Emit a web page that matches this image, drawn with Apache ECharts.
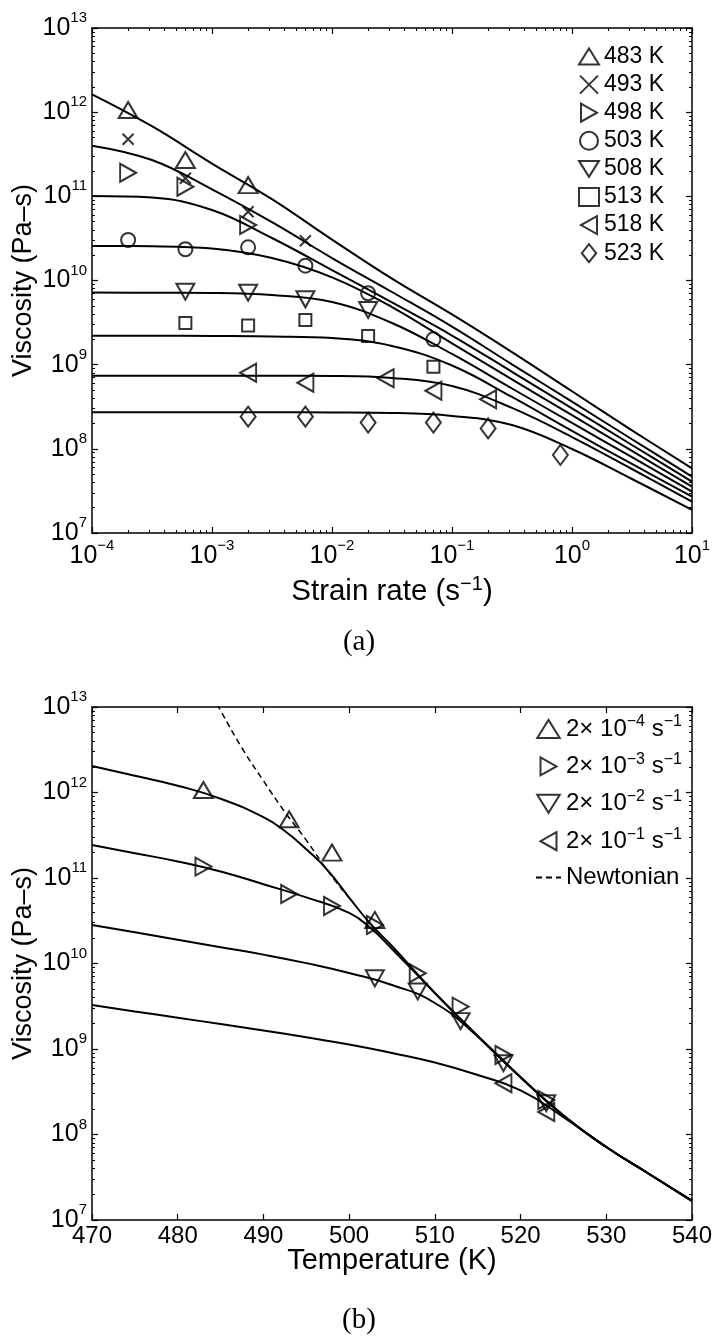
<!DOCTYPE html>
<html>
<head>
<meta charset="utf-8">
<script src="https://cdn.jsdelivr.net/npm/echarts@6/dist/echarts.min.js"></script>
<style>
  html, body { margin: 0; padding: 0; background: #fff; }
  #chart { width: 713px; height: 1338px; }
</style>
</head>
<body>
<div id="chart"></div>
<script>
// ---------- Panel (a): viscosity vs strain rate, one series per temperature ----------
const tempsA = ['483 K', '493 K', '498 K', '503 K', '508 K', '513 K', '518 K', '523 K'];

// measured points [strain rate (1/s), viscosity (Pa-s)]
const meas483 = [[2e-4, 1.06e12], [6e-4, 2.70e11], [2e-3, 1.36e11]];
const meas493 = [[2e-4, 4.76e11], [6e-4, 1.64e11], [2e-3, 6.57e10], [6e-3, 2.97e10]];
const meas498 = [[2e-4, 1.91e11], [6e-4, 1.30e11], [2e-3, 4.56e10]];
const meas503 = [[2e-4, 3.03e10], [6e-4, 2.35e10], [2e-3, 2.48e10], [6e-3, 1.50e10], [2e-2, 7.05e9], [7e-2, 2.00e9]];
const meas508 = [[6e-4, 7.36e9], [2e-3, 7.16e9], [6e-3, 5.98e9], [2e-2, 4.46e9]];
const meas513 = [[6e-4, 3.13e9], [2e-3, 2.92e9], [6e-3, 3.40e9], [2e-2, 2.19e9], [7e-2, 9.46e8]];
const meas518 = [[2e-3, 8.03e8], [6e-3, 6.10e8], [2.8e-2, 6.90e8], [7e-2, 4.90e8], [2e-1, 3.88e8]];
const meas523 = [[2e-3, 2.41e8], [6e-3, 2.41e8], [2e-2, 2.05e8], [7e-2, 2.05e8], [2e-1, 1.75e8], [8e-1, 8.45e7]];

// model curves sampled every half decade of strain rate
const fitRates = [1e-4, 3.16e-4, 1e-3, 3.16e-3, 1e-2, 3.16e-2, 1e-1, 3.16e-1, 1, 3.16, 10];
const fit483 = [1.63e12, 6.81e11, 2.45e11, 9.25e10, 3.06e10, 1.05e10, 3.95e9, 1.41e9, 4.83e8, 1.66e8, 5.87e7];
const fit493 = [4.00e11, 2.70e11, 1.21e11, 4.93e10, 1.85e10, 7.30e9, 2.83e9, 1.01e9, 3.63e8, 1.30e8, 4.67e7];
const fit498 = [1.01e11, 9.69e10, 6.88e10, 3.20e10, 1.33e10, 5.48e9, 2.22e9, 8.23e8, 3.03e8, 1.11e8, 4.07e7];
const fit503 = [2.57e10, 2.55e10, 2.40e10, 1.85e10, 1.09e10, 4.84e9, 1.79e9, 6.68e8, 2.51e8, 9.43e7, 3.55e7];
const fit508 = [7.20e9, 7.16e9, 7.11e9, 6.73e9, 5.56e9, 3.13e9, 1.34e9, 5.21e8, 2.03e8, 7.96e7, 3.10e7];
const fit513 = [2.21e9, 2.21e9, 2.19e9, 2.16e9, 2.07e9, 1.67e9, 9.78e8, 4.13e8, 1.63e8, 6.61e7, 2.70e7];
const fit518 = [7.40e8, 7.40e8, 7.40e8, 7.38e8, 7.34e8, 6.95e8, 5.58e8, 3.06e8, 1.38e8, 5.76e7, 2.36e7];
const fit523 = [2.72e8, 2.72e8, 2.72e8, 2.72e8, 2.71e8, 2.67e8, 2.46e8, 1.92e8, 9.96e7, 4.38e7, 1.88e7];

// ---------- Panel (b): viscosity vs temperature, one series per strain rate ----------
const rateExps = ['\u22124', '\u22123', '\u22122', '\u22121'];
const newtonianName = 'Newtonian';

// measured points [temperature (K), viscosity (Pa-s)]
const measR4 = [[483, 1.07e12], [493, 4.86e11], [498, 1.98e11], [503, 3.23e10]];
const measR3 = [[483, 1.36e11], [493, 6.50e10], [498, 4.71e10], [503, 2.82e10], [508, 7.68e9], [513, 3.13e9], [518, 8.51e8], [523, 2.53e8]];
const measR2 = [[503, 6.71e9], [508, 4.71e9], [513, 2.12e9], [518, 6.81e8], [523, 2.32e8]];
const measR1 = [[518, 3.97e8], [523, 1.83e8]];

// model curves [temperature (K), viscosity (Pa-s)]
const fitR4 = [[470, 2.04e12], [475, 1.57e12], [480, 1.20e12], [485, 8.46e11], [490, 5.14e11], [492.5, 3.55e11], [495, 2.17e11], [497.5, 1.23e11], [500, 5.90e10], [502.5, 2.90e10], [505, 1.60e10], [510, 4.52e9], [515, 1.42e9], [520, 4.67e8], [525, 1.67e8], [530, 7.14e7], [535, 3.45e7], [540, 1.67e7]];
const fitR3 = [[470, 2.43e11], [475, 1.95e11], [480, 1.56e11], [485, 1.19e11], [490, 8.46e10], [495, 5.93e10], [500, 3.90e10], [502.5, 2.60e10], [505, 1.48e10], [510, 4.52e9], [515, 1.42e9], [520, 4.67e8], [525, 1.67e8], [530, 7.14e7], [535, 3.45e7], [540, 1.67e7]];
const fitR2 = [[470, 2.82e10], [475, 2.32e10], [480, 1.90e10], [485, 1.55e10], [490, 1.27e10], [495, 1.01e10], [500, 7.74e9], [505, 5.61e9], [510, 3.45e9], [515, 1.40e9], [520, 4.67e8], [525, 1.67e8], [530, 7.14e7], [535, 3.45e7], [540, 1.67e7]];
const fitR1 = [[470, 3.27e9], [475, 2.75e9], [480, 2.32e9], [485, 1.96e9], [490, 1.65e9], [495, 1.37e9], [500, 1.13e9], [505, 8.98e8], [510, 6.95e8], [515, 4.96e8], [520, 3.28e8], [525, 1.60e8], [530, 7.14e7], [535, 3.45e7], [540, 1.67e7]];
const newtonian = [[484, 1.36e13], [485, 9.06e12], [487.5, 3.31e12], [490, 1.37e12], [492.5, 5.92e11], [495, 2.77e11], [497.5, 1.21e11], [500, 5.83e10]];

// ---------- styling helpers ----------
const FONT = '"Liberation Sans", Arial, Helvetica, sans-serif';
const SERIF = '"Liberation Serif", "DejaVu Serif", serif';
const BLACK = '#000';

// open marker shapes (paths keep their orientation in the legend too)
const MARK = {
  up:      { symbol: 'path://M0,16L10,0L20,16Z', symbolSize: [19, 16] },
  cross:   { symbol: 'path://M0,0L10,10M10,0L0,10', symbolSize: 11 },
  right:   { symbol: 'path://M0,0L16,9L0,18Z', symbolSize: [16, 18] },
  circle:  { symbol: 'circle', symbolSize: 14 },
  down:    { symbol: 'path://M0,0L20,0L10,16Z', symbolSize: [18, 16] },
  square:  { symbol: 'rect', symbolSize: 12 },
  left:    { symbol: 'path://M16,0L0,9L16,18Z', symbolSize: [16, 18] },
  diamond: { symbol: 'path://M8,0L16,10L8,20L0,10Z', symbolSize: [15, 20] }
};

const expText = n => (n < 0 ? '\u2212' + (-n) : String(n));
const powLabel = v => '{b|10}{s|' + expText(Math.round(Math.log10(v))) + '}';
const tickRich = {
  b: { fontSize: 25, fontFamily: FONT, color: BLACK, lineHeight: 34 },
  s: { fontSize: 15, fontFamily: FONT, color: BLACK, lineHeight: 14, padding: [0, 0, 20, 0] }
};

// minor tick positions (log10 space) for 2..9 x 10^k
function minorLogTicks(lo, hi) {
  const v = [];
  for (let k = lo; k < hi; k++) for (let m = 2; m <= 9; m++) v.push(k + Math.log10(m));
  return v;
}

const lineStyleAxis = { show: true, onZero: false, lineStyle: { color: BLACK, width: 1.5 } };

function majorAxis(grid, type, pos, min, max, extra) {
  return Object.assign({
    gridIndex: grid, type: type, position: pos, min: min, max: max,
    axisLine: lineStyleAxis,
    axisTick: { show: true, inside: true, length: 6, lineStyle: { color: BLACK, width: 1.2 } },
    axisLabel: { show: false },
    splitLine: { show: false },
    minorTick: { show: false },
    minorSplitLine: { show: false },
    nameMoveOverlap: false
  }, extra || {});
}
function minorAxis(grid, pos, min, max, values) {
  return {
    gridIndex: grid, type: 'value', position: pos, min: min, max: max,
    axisLine: { show: false, onZero: false },
    axisTick: { show: true, inside: true, length: 3, customValues: values, lineStyle: { color: BLACK, width: 1 } },
    axisLabel: { show: false },
    splitLine: { show: false }
  };
}

const xLabelA = { show: true, formatter: powLabel, rich: tickRich, margin: 6 };
const yLabel = { show: true, formatter: powLabel, rich: tickRich, margin: 5 };

const xAxis = [
  majorAxis(0, 'log', 'bottom', 1e-4, 10, {
    axisLabel: xLabelA,
    name: 'Strain rate (s{s|\u22121})', nameLocation: 'middle', nameGap: 42,
    nameTextStyle: { fontSize: 29.5, fontFamily: FONT, color: BLACK, lineHeight: 34,
      rich: { s: { fontSize: 20, fontFamily: FONT, color: BLACK, lineHeight: 18, padding: [0, 0, 16, 0] } } }
  }),
  minorAxis(0, 'bottom', -4, 1, minorLogTicks(-4, 1)),
  majorAxis(0, 'log', 'top', 1e-4, 10),
  minorAxis(0, 'top', -4, 1, minorLogTicks(-4, 1)),
  majorAxis(1, 'value', 'bottom', 470, 540, {
    interval: 10,
    axisLabel: { show: true, fontSize: 24, fontFamily: FONT, color: BLACK, margin: 4 },
    name: 'Temperature (K)', nameLocation: 'middle', nameGap: 26,
    nameTextStyle: { fontSize: 29, fontFamily: FONT, color: BLACK, lineHeight: 30 }
  }),
  majorAxis(1, 'value', 'top', 470, 540, { interval: 10 })
];

const yNameStyle = { fontSize: 27, fontFamily: FONT, color: BLACK, lineHeight: 28 };
const yAxis = [
  majorAxis(0, 'log', 'left', 1e7, 1e13, { axisLabel: yLabel,
    name: 'Viscosity (Pa\u2013s)', nameLocation: 'middle', nameGap: 54, nameRotate: 90, nameTextStyle: yNameStyle }),
  minorAxis(0, 'left', 7, 13, minorLogTicks(7, 13)),
  majorAxis(0, 'log', 'right', 1e7, 1e13),
  minorAxis(0, 'right', 7, 13, minorLogTicks(7, 13)),
  majorAxis(1, 'log', 'left', 1e7, 1e13, { axisLabel: yLabel,
    name: 'Viscosity (Pa\u2013s)', nameLocation: 'middle', nameGap: 54, nameRotate: 90, nameTextStyle: yNameStyle }),
  minorAxis(1, 'left', 7, 13, minorLogTicks(7, 13)),
  majorAxis(1, 'log', 'right', 1e7, 1e13),
  minorAxis(1, 'right', 7, 13, minorLogTicks(7, 13))
];

const markerStyle = { color: 'transparent', borderColor: BLACK, borderWidth: 2 };

function markerSeries(name, data, mark, xi, yi) {
  return {
    type: 'scatter', name: name, data: data, xAxisIndex: xi, yAxisIndex: yi,
    symbol: mark.symbol, symbolSize: mark.symbolSize,
    itemStyle: markerStyle, z: 5, silent: true
  };
}
function curveSeries(name, data, xi, yi, dashed, smooth) {
  return {
    type: 'line', name: name, data: data, xAxisIndex: xi, yAxisIndex: yi,
    showSymbol: false, symbol: 'none', smooth: smooth,
    lineStyle: { color: BLACK, width: dashed ? 1.5 : 2, type: dashed ? [6, 4] : 'solid' },
    itemStyle: { color: BLACK }, z: dashed ? 2 : 3, silent: true, clip: true
  };
}
const zipRates = vals => fitRates.map((r, i) => [r, vals[i]]);

const measA = [meas483, meas493, meas498, meas503, meas508, meas513, meas518, meas523];
const fitsA = [fit483, fit493, fit498, fit503, fit508, fit513, fit518, fit523];
const marksA = [MARK.up, MARK.cross, MARK.right, MARK.circle, MARK.down, MARK.square, MARK.left, MARK.diamond];

const rateNames = rateExps.map(e => '2\u00d7 10' + e + ' s\u22121');
const measB = [measR4, measR3, measR2, measR1];
const fitsB = [fitR4, fitR3, fitR2, fitR1];
const marksB = [MARK.up, MARK.right, MARK.down, MARK.left];

const series = [];
tempsA.forEach((t, i) => {
  series.push(curveSeries('fit ' + t, zipRates(fitsA[i]), 0, 0, false, 0.4));
  series.push(markerSeries(t, measA[i], marksA[i], 0, 0));
});
rateNames.forEach((n, i) => {
  series.push(curveSeries('fit ' + n, fitsB[i], 4, 4, false, 0.5));
  series.push(markerSeries(n, measB[i], marksB[i], 4, 4));
});
series.push(curveSeries(newtonianName, newtonian, 4, 4, true, 0.5));

const option = {
  backgroundColor: '#fff',
  animation: false,
  title: [
    { text: '(a)', left: 354, top: 623, textAlign: 'center',
      textStyle: { fontFamily: SERIF, fontSize: 29, fontWeight: 'normal', color: BLACK } },
    { text: '(b)', left: 354, top: 1301, textAlign: 'center',
      textStyle: { fontFamily: SERIF, fontSize: 29, fontWeight: 'normal', color: BLACK } }
  ],
  grid: [
    { left: 92, top: 28, width: 600, height: 505, containLabel: false, outerBoundsMode: 'none' },
    { left: 92, top: 707, width: 600, height: 513, containLabel: false, outerBoundsMode: 'none' }
  ],
  legend: [
    { data: tempsA, orient: 'vertical', left: 578, top: 45, itemWidth: 20, itemHeight: 18, itemGap: 5.1,
      selectedMode: false, padding: 0, itemStyle: markerStyle,
      textStyle: { fontSize: 23, fontFamily: FONT, color: BLACK, lineHeight: 23 } },
    { data: rateNames.concat([{ name: newtonianName, itemStyle: { opacity: 0 } }]),
      orient: 'vertical', left: 535, top: 714,
      itemWidth: 25, itemHeight: 18, itemGap: 7.4, selectedMode: false, padding: 0,
      formatter: name => {
        const i = rateNames.indexOf(name);
        return i < 0 ? name : '2\u00d7 10{s|' + rateExps[i] + '} s{s|\u22121}';
      },
      textStyle: { fontSize: 24, fontFamily: FONT, color: BLACK, lineHeight: 28,
        rich: { s: { fontSize: 16, fontFamily: FONT, color: BLACK, lineHeight: 14, padding: [0, 0, 14, 0] } } }
    }
  ],
  xAxis: xAxis,
  yAxis: yAxis,
  series: series
};

const chart = echarts.init(document.getElementById('chart'), null, { renderer: 'canvas' });
chart.setOption(option);
</script>
</body>
</html>
